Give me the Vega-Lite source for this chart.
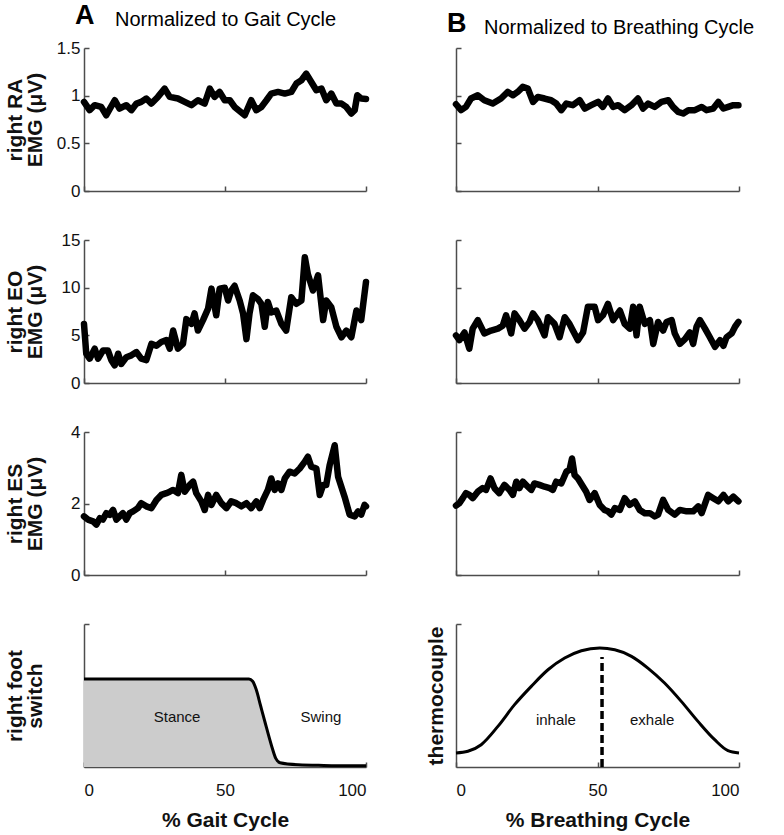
{
  "$schema": "https://vega.github.io/schema/vega-lite/v6.json",
  "padding": {"left": 4, "top": 1, "right": 10, "bottom": 4},
  "spacing": 52,
  "config": {
    "view": {"stroke": null},
    "font": "Liberation Sans",
    "title": {"font": "Liberation Sans", "color": "#000"},
    "axis": {
      "grid": false,
      "domainColor": "#4d4d4d",
      "domainWidth": 1.5,
      "tickColor": "#4d4d4d",
      "tickWidth": 1.5,
      "tickSize": -5,
      "labelFont": "Liberation Sans",
      "labelFontSize": 17,
      "labelColor": "#111",
      "titleFont": "Liberation Sans",
      "titleFontSize": 21,
      "titleFontWeight": "bold",
      "titleColor": "#111",
      "titleLineHeight": 20
    },
    "axisX": {"labelPadding": 20, "titlePadding": 11},
    "axisY": {"labelPadding": 9}
  },
  "datasets": {
    "emg": [
      {"panel": "RA_gait", "pct": 0, "emg": 0.935}, {"panel": "RA_gait", "pct": 2.0, "emg": 0.848}, {"panel": "RA_gait", "pct": 3.8, "emg": 0.9}, {"panel": "RA_gait", "pct": 6.1, "emg": 0.882}, {"panel": "RA_gait", "pct": 7.9, "emg": 0.795}, {"panel": "RA_gait", "pct": 10.9, "emg": 0.952}, {"panel": "RA_gait", "pct": 12.6, "emg": 0.865}, {"panel": "RA_gait", "pct": 15.0, "emg": 0.9}, {"panel": "RA_gait", "pct": 16.8, "emg": 0.848}, {"panel": "RA_gait", "pct": 18.6, "emg": 0.917}, {"panel": "RA_gait", "pct": 20.3, "emg": 0.935}, {"panel": "RA_gait", "pct": 22.1, "emg": 0.97}, {"panel": "RA_gait", "pct": 23.9, "emg": 0.917}, {"panel": "RA_gait", "pct": 26.2, "emg": 0.987}, {"panel": "RA_gait", "pct": 28.6, "emg": 1.074}, {"panel": "RA_gait", "pct": 30.4, "emg": 0.987}, {"panel": "RA_gait", "pct": 33.3, "emg": 0.97}, {"panel": "RA_gait", "pct": 35.7, "emg": 0.935}, {"panel": "RA_gait", "pct": 38.1, "emg": 0.9}, {"panel": "RA_gait", "pct": 40.4, "emg": 0.952}, {"panel": "RA_gait", "pct": 42.8, "emg": 0.917}, {"panel": "RA_gait", "pct": 44.6, "emg": 1.074}, {"panel": "RA_gait", "pct": 46.3, "emg": 0.987}, {"panel": "RA_gait", "pct": 48.1, "emg": 1.039}, {"panel": "RA_gait", "pct": 49.9, "emg": 0.952}, {"panel": "RA_gait", "pct": 51.7, "emg": 0.952}, {"panel": "RA_gait", "pct": 53.4, "emg": 0.882}, {"panel": "RA_gait", "pct": 57.0, "emg": 0.795}, {"panel": "RA_gait", "pct": 59.3, "emg": 0.952}, {"panel": "RA_gait", "pct": 61.1, "emg": 0.848}, {"panel": "RA_gait", "pct": 62.9, "emg": 0.882}, {"panel": "RA_gait", "pct": 64.7, "emg": 0.952}, {"panel": "RA_gait", "pct": 66.4, "emg": 1.022}, {"panel": "RA_gait", "pct": 68.8, "emg": 1.039}, {"panel": "RA_gait", "pct": 71.2, "emg": 1.022}, {"panel": "RA_gait", "pct": 73.5, "emg": 1.039}, {"panel": "RA_gait", "pct": 75.3, "emg": 1.127}, {"panel": "RA_gait", "pct": 77.1, "emg": 1.162}, {"panel": "RA_gait", "pct": 78.8, "emg": 1.231}, {"panel": "RA_gait", "pct": 80.6, "emg": 1.144}, {"panel": "RA_gait", "pct": 82.4, "emg": 1.057}, {"panel": "RA_gait", "pct": 84.2, "emg": 1.074}, {"panel": "RA_gait", "pct": 85.9, "emg": 0.952}, {"panel": "RA_gait", "pct": 87.7, "emg": 1.022}, {"panel": "RA_gait", "pct": 89.5, "emg": 0.917}, {"panel": "RA_gait", "pct": 91.3, "emg": 0.917}, {"panel": "RA_gait", "pct": 93.0, "emg": 0.882}, {"panel": "RA_gait", "pct": 94.8, "emg": 0.813}, {"panel": "RA_gait", "pct": 96.0, "emg": 0.848}, {"panel": "RA_gait", "pct": 96.9, "emg": 1.004}, {"panel": "RA_gait", "pct": 98.3, "emg": 0.97}, {"panel": "RA_gait", "pct": 100, "emg": 0.966},
      {"panel": "RA_breath", "pct": 0, "emg": 0.91}, {"panel": "RA_breath", "pct": 1.8, "emg": 0.848}, {"panel": "RA_breath", "pct": 3.5, "emg": 0.882}, {"panel": "RA_breath", "pct": 5.3, "emg": 0.97}, {"panel": "RA_breath", "pct": 7.7, "emg": 1.004}, {"panel": "RA_breath", "pct": 10.0, "emg": 0.952}, {"panel": "RA_breath", "pct": 13.0, "emg": 0.917}, {"panel": "RA_breath", "pct": 15.9, "emg": 0.97}, {"panel": "RA_breath", "pct": 18.3, "emg": 1.039}, {"panel": "RA_breath", "pct": 20.1, "emg": 1.004}, {"panel": "RA_breath", "pct": 21.8, "emg": 1.039}, {"panel": "RA_breath", "pct": 23.6, "emg": 1.092}, {"panel": "RA_breath", "pct": 25.4, "emg": 1.074}, {"panel": "RA_breath", "pct": 27.2, "emg": 0.935}, {"panel": "RA_breath", "pct": 28.9, "emg": 0.987}, {"panel": "RA_breath", "pct": 31.3, "emg": 0.97}, {"panel": "RA_breath", "pct": 33.6, "emg": 0.952}, {"panel": "RA_breath", "pct": 35.4, "emg": 0.917}, {"panel": "RA_breath", "pct": 37.2, "emg": 0.848}, {"panel": "RA_breath", "pct": 39.0, "emg": 0.917}, {"panel": "RA_breath", "pct": 41.3, "emg": 0.9}, {"panel": "RA_breath", "pct": 43.7, "emg": 0.952}, {"panel": "RA_breath", "pct": 45.5, "emg": 0.865}, {"panel": "RA_breath", "pct": 47.8, "emg": 0.9}, {"panel": "RA_breath", "pct": 50.2, "emg": 0.935}, {"panel": "RA_breath", "pct": 51.9, "emg": 0.882}, {"panel": "RA_breath", "pct": 53.7, "emg": 0.97}, {"panel": "RA_breath", "pct": 55.5, "emg": 0.882}, {"panel": "RA_breath", "pct": 57.3, "emg": 0.9}, {"panel": "RA_breath", "pct": 59.6, "emg": 0.848}, {"panel": "RA_breath", "pct": 62.0, "emg": 0.9}, {"panel": "RA_breath", "pct": 64.3, "emg": 0.97}, {"panel": "RA_breath", "pct": 66.1, "emg": 0.865}, {"panel": "RA_breath", "pct": 67.9, "emg": 0.917}, {"panel": "RA_breath", "pct": 70.2, "emg": 0.882}, {"panel": "RA_breath", "pct": 72.6, "emg": 0.935}, {"panel": "RA_breath", "pct": 75.0, "emg": 0.952}, {"panel": "RA_breath", "pct": 76.7, "emg": 0.882}, {"panel": "RA_breath", "pct": 78.5, "emg": 0.83}, {"panel": "RA_breath", "pct": 80.3, "emg": 0.813}, {"panel": "RA_breath", "pct": 82.1, "emg": 0.848}, {"panel": "RA_breath", "pct": 84.4, "emg": 0.848}, {"panel": "RA_breath", "pct": 86.8, "emg": 0.882}, {"panel": "RA_breath", "pct": 88.5, "emg": 0.848}, {"panel": "RA_breath", "pct": 90.9, "emg": 0.865}, {"panel": "RA_breath", "pct": 92.7, "emg": 0.935}, {"panel": "RA_breath", "pct": 94.5, "emg": 0.865}, {"panel": "RA_breath", "pct": 96.2, "emg": 0.882}, {"panel": "RA_breath", "pct": 98.0, "emg": 0.9}, {"panel": "RA_breath", "pct": 99.8, "emg": 0.9},
      {"panel": "EO_gait", "pct": 0, "emg": 6.2}, {"panel": "EO_gait", "pct": 0.8, "emg": 3.07}, {"panel": "EO_gait", "pct": 2.0, "emg": 2.55}, {"panel": "EO_gait", "pct": 3.8, "emg": 3.6}, {"panel": "EO_gait", "pct": 5.0, "emg": 2.55}, {"panel": "EO_gait", "pct": 6.7, "emg": 3.4}, {"panel": "EO_gait", "pct": 8.5, "emg": 3.4}, {"panel": "EO_gait", "pct": 9.7, "emg": 2.4}, {"panel": "EO_gait", "pct": 10.9, "emg": 1.85}, {"panel": "EO_gait", "pct": 12.1, "emg": 3.07}, {"panel": "EO_gait", "pct": 13.2, "emg": 2.0}, {"panel": "EO_gait", "pct": 15.0, "emg": 2.7}, {"panel": "EO_gait", "pct": 16.8, "emg": 2.9}, {"panel": "EO_gait", "pct": 18.6, "emg": 3.24}, {"panel": "EO_gait", "pct": 20.3, "emg": 2.55}, {"panel": "EO_gait", "pct": 22.1, "emg": 2.4}, {"panel": "EO_gait", "pct": 23.9, "emg": 4.1}, {"panel": "EO_gait", "pct": 25.7, "emg": 3.9}, {"panel": "EO_gait", "pct": 27.4, "emg": 4.3}, {"panel": "EO_gait", "pct": 29.2, "emg": 4.5}, {"panel": "EO_gait", "pct": 30.4, "emg": 3.6}, {"panel": "EO_gait", "pct": 31.6, "emg": 5.5}, {"panel": "EO_gait", "pct": 33.3, "emg": 3.6}, {"panel": "EO_gait", "pct": 35.1, "emg": 4.1}, {"panel": "EO_gait", "pct": 36.3, "emg": 6.7}, {"panel": "EO_gait", "pct": 38.1, "emg": 6.2}, {"panel": "EO_gait", "pct": 39.2, "emg": 7.3}, {"panel": "EO_gait", "pct": 40.4, "emg": 5.5}, {"panel": "EO_gait", "pct": 42.2, "emg": 6.6}, {"panel": "EO_gait", "pct": 44.0, "emg": 7.8}, {"panel": "EO_gait", "pct": 45.2, "emg": 9.9}, {"panel": "EO_gait", "pct": 46.9, "emg": 7.1}, {"panel": "EO_gait", "pct": 48.1, "emg": 9.9}, {"panel": "EO_gait", "pct": 49.9, "emg": 10.0}, {"panel": "EO_gait", "pct": 51.1, "emg": 8.65}, {"panel": "EO_gait", "pct": 52.2, "emg": 9.7}, {"panel": "EO_gait", "pct": 53.4, "emg": 10.2}, {"panel": "EO_gait", "pct": 55.2, "emg": 8.65}, {"panel": "EO_gait", "pct": 56.4, "emg": 7.3}, {"panel": "EO_gait", "pct": 57.6, "emg": 4.6}, {"panel": "EO_gait", "pct": 58.7, "emg": 7.3}, {"panel": "EO_gait", "pct": 59.9, "emg": 9.2}, {"panel": "EO_gait", "pct": 61.7, "emg": 8.8}, {"panel": "EO_gait", "pct": 62.9, "emg": 8.3}, {"panel": "EO_gait", "pct": 64.1, "emg": 5.9}, {"panel": "EO_gait", "pct": 65.2, "emg": 8.5}, {"panel": "EO_gait", "pct": 66.4, "emg": 7.4}, {"panel": "EO_gait", "pct": 68.2, "emg": 7.6}, {"panel": "EO_gait", "pct": 70.0, "emg": 6.2}, {"panel": "EO_gait", "pct": 71.7, "emg": 5.5}, {"panel": "EO_gait", "pct": 73.5, "emg": 9.0}, {"panel": "EO_gait", "pct": 75.3, "emg": 8.3}, {"panel": "EO_gait", "pct": 77.1, "emg": 8.65}, {"panel": "EO_gait", "pct": 78.3, "emg": 13.2}, {"panel": "EO_gait", "pct": 79.4, "emg": 11.4}, {"panel": "EO_gait", "pct": 81.2, "emg": 9.7}, {"panel": "EO_gait", "pct": 83.0, "emg": 11.3}, {"panel": "EO_gait", "pct": 84.8, "emg": 6.6}, {"panel": "EO_gait", "pct": 85.9, "emg": 8.65}, {"panel": "EO_gait", "pct": 87.7, "emg": 7.95}, {"panel": "EO_gait", "pct": 89.5, "emg": 5.9}, {"panel": "EO_gait", "pct": 91.3, "emg": 4.8}, {"panel": "EO_gait", "pct": 93.0, "emg": 5.5}, {"panel": "EO_gait", "pct": 94.8, "emg": 4.8}, {"panel": "EO_gait", "pct": 96.6, "emg": 7.6}, {"panel": "EO_gait", "pct": 98.3, "emg": 6.6}, {"panel": "EO_gait", "pct": 100, "emg": 10.6},
      {"panel": "EO_breath", "pct": 0, "emg": 5.0}, {"panel": "EO_breath", "pct": 1.2, "emg": 4.5}, {"panel": "EO_breath", "pct": 3.0, "emg": 5.3}, {"panel": "EO_breath", "pct": 4.7, "emg": 3.6}, {"panel": "EO_breath", "pct": 5.9, "emg": 5.7}, {"panel": "EO_breath", "pct": 7.7, "emg": 6.6}, {"panel": "EO_breath", "pct": 10.0, "emg": 5.2}, {"panel": "EO_breath", "pct": 12.4, "emg": 5.5}, {"panel": "EO_breath", "pct": 14.8, "emg": 5.7}, {"panel": "EO_breath", "pct": 16.5, "emg": 6.0}, {"panel": "EO_breath", "pct": 17.7, "emg": 7.1}, {"panel": "EO_breath", "pct": 19.5, "emg": 5.2}, {"panel": "EO_breath", "pct": 20.7, "emg": 7.3}, {"panel": "EO_breath", "pct": 22.4, "emg": 6.6}, {"panel": "EO_breath", "pct": 24.2, "emg": 5.7}, {"panel": "EO_breath", "pct": 26.0, "emg": 6.4}, {"panel": "EO_breath", "pct": 27.2, "emg": 7.3}, {"panel": "EO_breath", "pct": 28.9, "emg": 6.6}, {"panel": "EO_breath", "pct": 31.3, "emg": 5.0}, {"panel": "EO_breath", "pct": 32.5, "emg": 6.9}, {"panel": "EO_breath", "pct": 34.8, "emg": 6.2}, {"panel": "EO_breath", "pct": 36.6, "emg": 4.8}, {"panel": "EO_breath", "pct": 38.4, "emg": 6.9}, {"panel": "EO_breath", "pct": 40.1, "emg": 6.2}, {"panel": "EO_breath", "pct": 41.3, "emg": 5.5}, {"panel": "EO_breath", "pct": 43.1, "emg": 4.5}, {"panel": "EO_breath", "pct": 44.9, "emg": 5.3}, {"panel": "EO_breath", "pct": 46.6, "emg": 8.0}, {"panel": "EO_breath", "pct": 49.0, "emg": 8.0}, {"panel": "EO_breath", "pct": 50.2, "emg": 6.6}, {"panel": "EO_breath", "pct": 51.9, "emg": 7.1}, {"panel": "EO_breath", "pct": 53.7, "emg": 8.3}, {"panel": "EO_breath", "pct": 55.5, "emg": 6.6}, {"panel": "EO_breath", "pct": 57.9, "emg": 7.6}, {"panel": "EO_breath", "pct": 59.6, "emg": 6.2}, {"panel": "EO_breath", "pct": 61.4, "emg": 5.7}, {"panel": "EO_breath", "pct": 62.6, "emg": 8.0}, {"panel": "EO_breath", "pct": 63.8, "emg": 5.0}, {"panel": "EO_breath", "pct": 64.9, "emg": 8.0}, {"panel": "EO_breath", "pct": 66.7, "emg": 6.2}, {"panel": "EO_breath", "pct": 68.5, "emg": 6.6}, {"panel": "EO_breath", "pct": 69.7, "emg": 4.1}, {"panel": "EO_breath", "pct": 71.4, "emg": 6.4}, {"panel": "EO_breath", "pct": 73.2, "emg": 5.5}, {"panel": "EO_breath", "pct": 74.4, "emg": 6.4}, {"panel": "EO_breath", "pct": 76.2, "emg": 6.6}, {"panel": "EO_breath", "pct": 77.3, "emg": 5.2}, {"panel": "EO_breath", "pct": 79.1, "emg": 4.1}, {"panel": "EO_breath", "pct": 80.9, "emg": 4.6}, {"panel": "EO_breath", "pct": 82.6, "emg": 5.3}, {"panel": "EO_breath", "pct": 83.8, "emg": 4.1}, {"panel": "EO_breath", "pct": 85.0, "emg": 5.9}, {"panel": "EO_breath", "pct": 86.2, "emg": 6.6}, {"panel": "EO_breath", "pct": 88.0, "emg": 5.7}, {"panel": "EO_breath", "pct": 89.7, "emg": 4.8}, {"panel": "EO_breath", "pct": 91.5, "emg": 3.8}, {"panel": "EO_breath", "pct": 93.3, "emg": 4.5}, {"panel": "EO_breath", "pct": 94.5, "emg": 3.9}, {"panel": "EO_breath", "pct": 95.6, "emg": 4.8}, {"panel": "EO_breath", "pct": 97.4, "emg": 5.2}, {"panel": "EO_breath", "pct": 98.6, "emg": 5.9}, {"panel": "EO_breath", "pct": 99.8, "emg": 6.4},
      {"panel": "ES_gait", "pct": 0, "emg": 1.64}, {"panel": "ES_gait", "pct": 1.4, "emg": 1.55}, {"panel": "ES_gait", "pct": 3.2, "emg": 1.5}, {"panel": "ES_gait", "pct": 4.4, "emg": 1.41}, {"panel": "ES_gait", "pct": 5.6, "emg": 1.59}, {"panel": "ES_gait", "pct": 6.7, "emg": 1.55}, {"panel": "ES_gait", "pct": 7.9, "emg": 1.73}, {"panel": "ES_gait", "pct": 9.1, "emg": 1.68}, {"panel": "ES_gait", "pct": 10.3, "emg": 1.82}, {"panel": "ES_gait", "pct": 11.5, "emg": 1.55}, {"panel": "ES_gait", "pct": 12.6, "emg": 1.64}, {"panel": "ES_gait", "pct": 13.8, "emg": 1.73}, {"panel": "ES_gait", "pct": 15.0, "emg": 1.55}, {"panel": "ES_gait", "pct": 16.2, "emg": 1.73}, {"panel": "ES_gait", "pct": 17.4, "emg": 1.78}, {"panel": "ES_gait", "pct": 19.1, "emg": 1.87}, {"panel": "ES_gait", "pct": 20.3, "emg": 2.01}, {"panel": "ES_gait", "pct": 22.1, "emg": 1.92}, {"panel": "ES_gait", "pct": 23.9, "emg": 1.87}, {"panel": "ES_gait", "pct": 25.7, "emg": 2.1}, {"panel": "ES_gait", "pct": 27.4, "emg": 2.24}, {"panel": "ES_gait", "pct": 29.2, "emg": 2.29}, {"panel": "ES_gait", "pct": 30.4, "emg": 2.33}, {"panel": "ES_gait", "pct": 31.6, "emg": 2.38}, {"panel": "ES_gait", "pct": 33.3, "emg": 2.29}, {"panel": "ES_gait", "pct": 34.5, "emg": 2.8}, {"panel": "ES_gait", "pct": 35.7, "emg": 2.33}, {"panel": "ES_gait", "pct": 37.5, "emg": 2.52}, {"panel": "ES_gait", "pct": 38.7, "emg": 2.61}, {"panel": "ES_gait", "pct": 39.8, "emg": 2.29}, {"panel": "ES_gait", "pct": 41.6, "emg": 2.06}, {"panel": "ES_gait", "pct": 42.8, "emg": 1.82}, {"panel": "ES_gait", "pct": 44.0, "emg": 2.24}, {"panel": "ES_gait", "pct": 45.2, "emg": 1.96}, {"panel": "ES_gait", "pct": 46.9, "emg": 2.24}, {"panel": "ES_gait", "pct": 48.7, "emg": 2.01}, {"panel": "ES_gait", "pct": 50.5, "emg": 1.87}, {"panel": "ES_gait", "pct": 52.2, "emg": 2.06}, {"panel": "ES_gait", "pct": 54.0, "emg": 2.01}, {"panel": "ES_gait", "pct": 55.8, "emg": 1.92}, {"panel": "ES_gait", "pct": 57.6, "emg": 2.01}, {"panel": "ES_gait", "pct": 59.3, "emg": 1.87}, {"panel": "ES_gait", "pct": 61.1, "emg": 2.06}, {"panel": "ES_gait", "pct": 62.3, "emg": 1.87}, {"panel": "ES_gait", "pct": 63.5, "emg": 2.1}, {"panel": "ES_gait", "pct": 65.2, "emg": 2.38}, {"panel": "ES_gait", "pct": 66.4, "emg": 2.7}, {"panel": "ES_gait", "pct": 67.6, "emg": 2.38}, {"panel": "ES_gait", "pct": 68.8, "emg": 2.56}, {"panel": "ES_gait", "pct": 70.0, "emg": 2.38}, {"panel": "ES_gait", "pct": 71.2, "emg": 2.7}, {"panel": "ES_gait", "pct": 72.9, "emg": 2.89}, {"panel": "ES_gait", "pct": 74.7, "emg": 2.84}, {"panel": "ES_gait", "pct": 76.5, "emg": 2.98}, {"panel": "ES_gait", "pct": 78.3, "emg": 3.17}, {"panel": "ES_gait", "pct": 79.4, "emg": 3.31}, {"panel": "ES_gait", "pct": 80.6, "emg": 3.03}, {"panel": "ES_gait", "pct": 82.4, "emg": 2.98}, {"panel": "ES_gait", "pct": 83.6, "emg": 2.24}, {"panel": "ES_gait", "pct": 84.8, "emg": 2.52}, {"panel": "ES_gait", "pct": 85.9, "emg": 2.52}, {"panel": "ES_gait", "pct": 87.1, "emg": 3.07}, {"panel": "ES_gait", "pct": 88.9, "emg": 3.63}, {"panel": "ES_gait", "pct": 90.1, "emg": 2.75}, {"panel": "ES_gait", "pct": 92.4, "emg": 2.19}, {"panel": "ES_gait", "pct": 94.2, "emg": 1.69}, {"panel": "ES_gait", "pct": 96.0, "emg": 1.64}, {"panel": "ES_gait", "pct": 97.2, "emg": 1.78}, {"panel": "ES_gait", "pct": 98.3, "emg": 1.69}, {"panel": "ES_gait", "pct": 99.5, "emg": 1.96}, {"panel": "ES_gait", "pct": 100, "emg": 1.92},
      {"panel": "ES_breath", "pct": 0, "emg": 1.94}, {"panel": "ES_breath", "pct": 1.2, "emg": 2.01}, {"panel": "ES_breath", "pct": 2.4, "emg": 2.15}, {"panel": "ES_breath", "pct": 3.5, "emg": 2.29}, {"panel": "ES_breath", "pct": 4.7, "emg": 2.24}, {"panel": "ES_breath", "pct": 5.9, "emg": 2.15}, {"panel": "ES_breath", "pct": 7.7, "emg": 2.33}, {"panel": "ES_breath", "pct": 9.4, "emg": 2.43}, {"panel": "ES_breath", "pct": 10.6, "emg": 2.38}, {"panel": "ES_breath", "pct": 12.2, "emg": 2.7}, {"panel": "ES_breath", "pct": 13.6, "emg": 2.43}, {"panel": "ES_breath", "pct": 15.3, "emg": 2.29}, {"panel": "ES_breath", "pct": 17.1, "emg": 2.52}, {"panel": "ES_breath", "pct": 18.9, "emg": 2.38}, {"panel": "ES_breath", "pct": 20.1, "emg": 2.24}, {"panel": "ES_breath", "pct": 21.3, "emg": 2.61}, {"panel": "ES_breath", "pct": 22.4, "emg": 2.43}, {"panel": "ES_breath", "pct": 23.6, "emg": 2.61}, {"panel": "ES_breath", "pct": 25.4, "emg": 2.47}, {"panel": "ES_breath", "pct": 26.6, "emg": 2.38}, {"panel": "ES_breath", "pct": 27.7, "emg": 2.56}, {"panel": "ES_breath", "pct": 29.5, "emg": 2.52}, {"panel": "ES_breath", "pct": 31.3, "emg": 2.47}, {"panel": "ES_breath", "pct": 33.1, "emg": 2.43}, {"panel": "ES_breath", "pct": 34.2, "emg": 2.38}, {"panel": "ES_breath", "pct": 35.4, "emg": 2.61}, {"panel": "ES_breath", "pct": 37.2, "emg": 2.56}, {"panel": "ES_breath", "pct": 39.0, "emg": 2.89}, {"panel": "ES_breath", "pct": 40.1, "emg": 2.94}, {"panel": "ES_breath", "pct": 41.0, "emg": 3.26}, {"panel": "ES_breath", "pct": 41.9, "emg": 2.8}, {"panel": "ES_breath", "pct": 43.1, "emg": 2.7}, {"panel": "ES_breath", "pct": 44.9, "emg": 2.47}, {"panel": "ES_breath", "pct": 46.0, "emg": 2.33}, {"panel": "ES_breath", "pct": 47.2, "emg": 2.1}, {"panel": "ES_breath", "pct": 49.0, "emg": 2.29}, {"panel": "ES_breath", "pct": 50.8, "emg": 1.96}, {"panel": "ES_breath", "pct": 52.5, "emg": 1.82}, {"panel": "ES_breath", "pct": 53.7, "emg": 1.78}, {"panel": "ES_breath", "pct": 54.9, "emg": 1.69}, {"panel": "ES_breath", "pct": 56.1, "emg": 1.87}, {"panel": "ES_breath", "pct": 57.9, "emg": 1.82}, {"panel": "ES_breath", "pct": 59.6, "emg": 2.15}, {"panel": "ES_breath", "pct": 61.4, "emg": 1.96}, {"panel": "ES_breath", "pct": 63.2, "emg": 2.06}, {"panel": "ES_breath", "pct": 64.9, "emg": 1.82}, {"panel": "ES_breath", "pct": 66.7, "emg": 1.73}, {"panel": "ES_breath", "pct": 68.5, "emg": 1.73}, {"panel": "ES_breath", "pct": 70.2, "emg": 1.64}, {"panel": "ES_breath", "pct": 71.4, "emg": 1.69}, {"panel": "ES_breath", "pct": 73.2, "emg": 2.1}, {"panel": "ES_breath", "pct": 75.0, "emg": 1.82}, {"panel": "ES_breath", "pct": 77.3, "emg": 1.69}, {"panel": "ES_breath", "pct": 79.1, "emg": 1.82}, {"panel": "ES_breath", "pct": 81.5, "emg": 1.78}, {"panel": "ES_breath", "pct": 83.8, "emg": 1.78}, {"panel": "ES_breath", "pct": 85.6, "emg": 1.92}, {"panel": "ES_breath", "pct": 86.8, "emg": 1.73}, {"panel": "ES_breath", "pct": 89.1, "emg": 2.24}, {"panel": "ES_breath", "pct": 90.9, "emg": 2.15}, {"panel": "ES_breath", "pct": 92.7, "emg": 2.06}, {"panel": "ES_breath", "pct": 94.5, "emg": 2.24}, {"panel": "ES_breath", "pct": 96.2, "emg": 2.06}, {"panel": "ES_breath", "pct": 98.0, "emg": 2.19}, {"panel": "ES_breath", "pct": 99.8, "emg": 2.06}
    ],
    "foot": [
      {"pct": 0, "val": 0.615}, {"pct": 58.5, "val": 0.615}, {"pct": 59.8, "val": 0.6}, {"pct": 61.1, "val": 0.54}, {"pct": 62.6, "val": 0.43}, {"pct": 64.1, "val": 0.32}, {"pct": 66.4, "val": 0.156}, {"pct": 68.0, "val": 0.06}, {"pct": 69.5, "val": 0.03}, {"pct": 76, "val": 0.016}, {"pct": 85, "val": 0.011}, {"pct": 100, "val": 0.008}
    ],
    "thermo": [
      {"pct": 0, "val": 0.098}, {"pct": 4.2, "val": 0.11}, {"pct": 8.9, "val": 0.156}, {"pct": 14.8, "val": 0.284}, {"pct": 20.7, "val": 0.436}, {"pct": 26.6, "val": 0.564}, {"pct": 32.5, "val": 0.68}, {"pct": 38.4, "val": 0.762}, {"pct": 44.3, "val": 0.813}, {"pct": 50.8, "val": 0.832}, {"pct": 56.1, "val": 0.82}, {"pct": 62.0, "val": 0.774}, {"pct": 67.8, "val": 0.692}, {"pct": 73.7, "val": 0.587}, {"pct": 79.6, "val": 0.459}, {"pct": 85.5, "val": 0.319}, {"pct": 91.4, "val": 0.191}, {"pct": 96.1, "val": 0.114}, {"pct": 100, "val": 0.098}
    ],
    "phase": [
      {"pct": 51.6, "val": 0, "top": 0.77}
    ],
    "labels": [
      {"panel": "foot", "pct": 33, "val": 0.35, "label": "Stance"},
      {"panel": "foot", "pct": 84, "val": 0.35, "label": "Swing"},
      {"panel": "thermo", "pct": 35.3, "val": 0.33, "label": "inhale"},
      {"panel": "thermo", "pct": 69.3, "val": 0.33, "label": "exhale"}
    ]
  },
  "hconcat": [
    {
      "title": {"text": "A", "anchor": "start", "fontSize": 27, "fontWeight": "bold", "offset": -20, "dx": 71},
      "bounds": "flush",
      "spacing": 49,
      "vconcat": [
        {
          "width": 282, "height": 143,
          "title": {"text": "Normalized to Gait Cycle", "anchor": "start", "frame": "group", "dx": 31, "fontSize": 20, "fontWeight": "normal", "offset": 9.5},
          "data": {"name": "emg"},
          "transform": [{"filter": "datum.panel === 'RA_gait'"}],
          "mark": {"type": "line", "color": "black", "strokeWidth": 6.5, "strokeJoin": "round", "strokeCap": "round"},
          "encoding": {
            "x": {"field": "pct", "type": "quantitative", "scale": {"domain": [0, 100]}, "axis": {"values": [0, 50, 100], "labels": false, "title": null}},
            "y": {"field": "emg", "type": "quantitative", "scale": {"domain": [0, 1.5]}, "axis": {"values": [0, 0.5, 1, 1.5], "format": "~g", "title": ["right RA", "EMG (μV)"], "titleX": -59}}
          }
        },
        {
          "width": 282, "height": 143,
          "data": {"name": "emg"},
          "transform": [{"filter": "datum.panel === 'EO_gait'"}],
          "mark": {"type": "line", "color": "black", "strokeWidth": 6.5, "strokeJoin": "round", "strokeCap": "round"},
          "encoding": {
            "x": {"field": "pct", "type": "quantitative", "scale": {"domain": [0, 100]}, "axis": {"values": [0, 50, 100], "labels": false, "title": null}},
            "y": {"field": "emg", "type": "quantitative", "scale": {"domain": [0, 15]}, "axis": {"values": [0, 5, 10, 15], "title": ["right EO", "EMG (μV)"], "titleX": -59}}
          }
        },
        {
          "width": 282, "height": 143,
          "data": {"name": "emg"},
          "transform": [{"filter": "datum.panel === 'ES_gait'"}],
          "mark": {"type": "line", "color": "black", "strokeWidth": 6.5, "strokeJoin": "round", "strokeCap": "round"},
          "encoding": {
            "x": {"field": "pct", "type": "quantitative", "scale": {"domain": [0, 100]}, "axis": {"values": [0, 50, 100], "labels": false, "title": null}},
            "y": {"field": "emg", "type": "quantitative", "scale": {"domain": [0, 4]}, "axis": {"values": [0, 2, 4], "title": ["right ES", "EMG (μV)"], "titleX": -59}}
          }
        },
        {
          "width": 282, "height": 143,
          "layer": [
            {
              "data": {"name": "foot"},
              "mark": {"type": "area", "color": "#cccccc", "opacity": 1, "interpolate": "monotone", "line": {"color": "black", "strokeWidth": 3}},
              "encoding": {
                "x": {"field": "pct", "type": "quantitative", "scale": {"domain": [0, 100]}, "axis": {"values": [0, 50, 100], "title": "% Gait Cycle"}},
                "y": {"field": "val", "type": "quantitative", "scale": {"domain": [0, 1]}, "axis": {"values": [1], "labels": false, "title": ["right foot", "switch"], "titleX": -59}}
              }
            },
            {
              "data": {"name": "labels"},
              "transform": [{"filter": "datum.panel === 'foot'"}],
              "mark": {"type": "text", "fontSize": 15, "color": "#111"},
              "encoding": {
                "x": {"field": "pct", "type": "quantitative"},
                "y": {"field": "val", "type": "quantitative"},
                "text": {"field": "label"}
              }
            }
          ]
        }
      ]
    },
    {
      "title": {"text": "B", "anchor": "start", "fontSize": 27, "fontWeight": "bold", "offset": -20, "dx": 22},
      "bounds": "flush",
      "spacing": 49,
      "vconcat": [
        {
          "width": 283, "height": 143,
          "title": {"text": "Normalized to Breathing Cycle", "anchor": "start", "frame": "group", "dx": 28, "fontSize": 20, "fontWeight": "normal", "offset": 9.5},
          "data": {"name": "emg"},
          "transform": [{"filter": "datum.panel === 'RA_breath'"}],
          "mark": {"type": "line", "color": "black", "strokeWidth": 6.5, "strokeJoin": "round", "strokeCap": "round"},
          "encoding": {
            "x": {"field": "pct", "type": "quantitative", "scale": {"domain": [0, 100]}, "axis": {"values": [0, 50, 100], "labels": false, "title": null}},
            "y": {"field": "emg", "type": "quantitative", "scale": {"domain": [0, 1.5]}, "axis": {"values": [0, 0.5, 1, 1.5], "labels": false, "title": null}}
          }
        },
        {
          "width": 283, "height": 143,
          "data": {"name": "emg"},
          "transform": [{"filter": "datum.panel === 'EO_breath'"}],
          "mark": {"type": "line", "color": "black", "strokeWidth": 6.5, "strokeJoin": "round", "strokeCap": "round"},
          "encoding": {
            "x": {"field": "pct", "type": "quantitative", "scale": {"domain": [0, 100]}, "axis": {"values": [0, 50, 100], "labels": false, "title": null}},
            "y": {"field": "emg", "type": "quantitative", "scale": {"domain": [0, 15]}, "axis": {"values": [0, 5, 10, 15], "labels": false, "title": null}}
          }
        },
        {
          "width": 283, "height": 143,
          "data": {"name": "emg"},
          "transform": [{"filter": "datum.panel === 'ES_breath'"}],
          "mark": {"type": "line", "color": "black", "strokeWidth": 6.5, "strokeJoin": "round", "strokeCap": "round"},
          "encoding": {
            "x": {"field": "pct", "type": "quantitative", "scale": {"domain": [0, 100]}, "axis": {"values": [0, 50, 100], "labels": false, "title": null}},
            "y": {"field": "emg", "type": "quantitative", "scale": {"domain": [0, 4]}, "axis": {"values": [0, 2, 4], "labels": false, "title": null}}
          }
        },
        {
          "width": 283, "height": 143,
          "layer": [
            {
              "data": {"name": "thermo"},
              "mark": {"type": "line", "color": "black", "strokeWidth": 3, "interpolate": "monotone"},
              "encoding": {
                "x": {"field": "pct", "type": "quantitative", "scale": {"domain": [0, 100]}, "axis": {"values": [0, 50, 100], "title": "% Breathing Cycle"}},
                "y": {"field": "val", "type": "quantitative", "scale": {"domain": [0, 1]}, "axis": {"values": [1], "labels": false, "title": "thermocouple", "titleX": -10}}
              }
            },
            {
              "data": {"name": "phase"},
              "mark": {"type": "rule", "color": "black", "strokeWidth": 3.5, "strokeDash": [8, 4]},
              "encoding": {
                "x": {"field": "pct", "type": "quantitative"},
                "y": {"field": "val", "type": "quantitative"},
                "y2": {"field": "top"}
              }
            },
            {
              "data": {"name": "labels"},
              "transform": [{"filter": "datum.panel === 'thermo'"}],
              "mark": {"type": "text", "fontSize": 15, "color": "#111"},
              "encoding": {
                "x": {"field": "pct", "type": "quantitative"},
                "y": {"field": "val", "type": "quantitative"},
                "text": {"field": "label"}
              }
            }
          ]
        }
      ]
    }
  ]
}
